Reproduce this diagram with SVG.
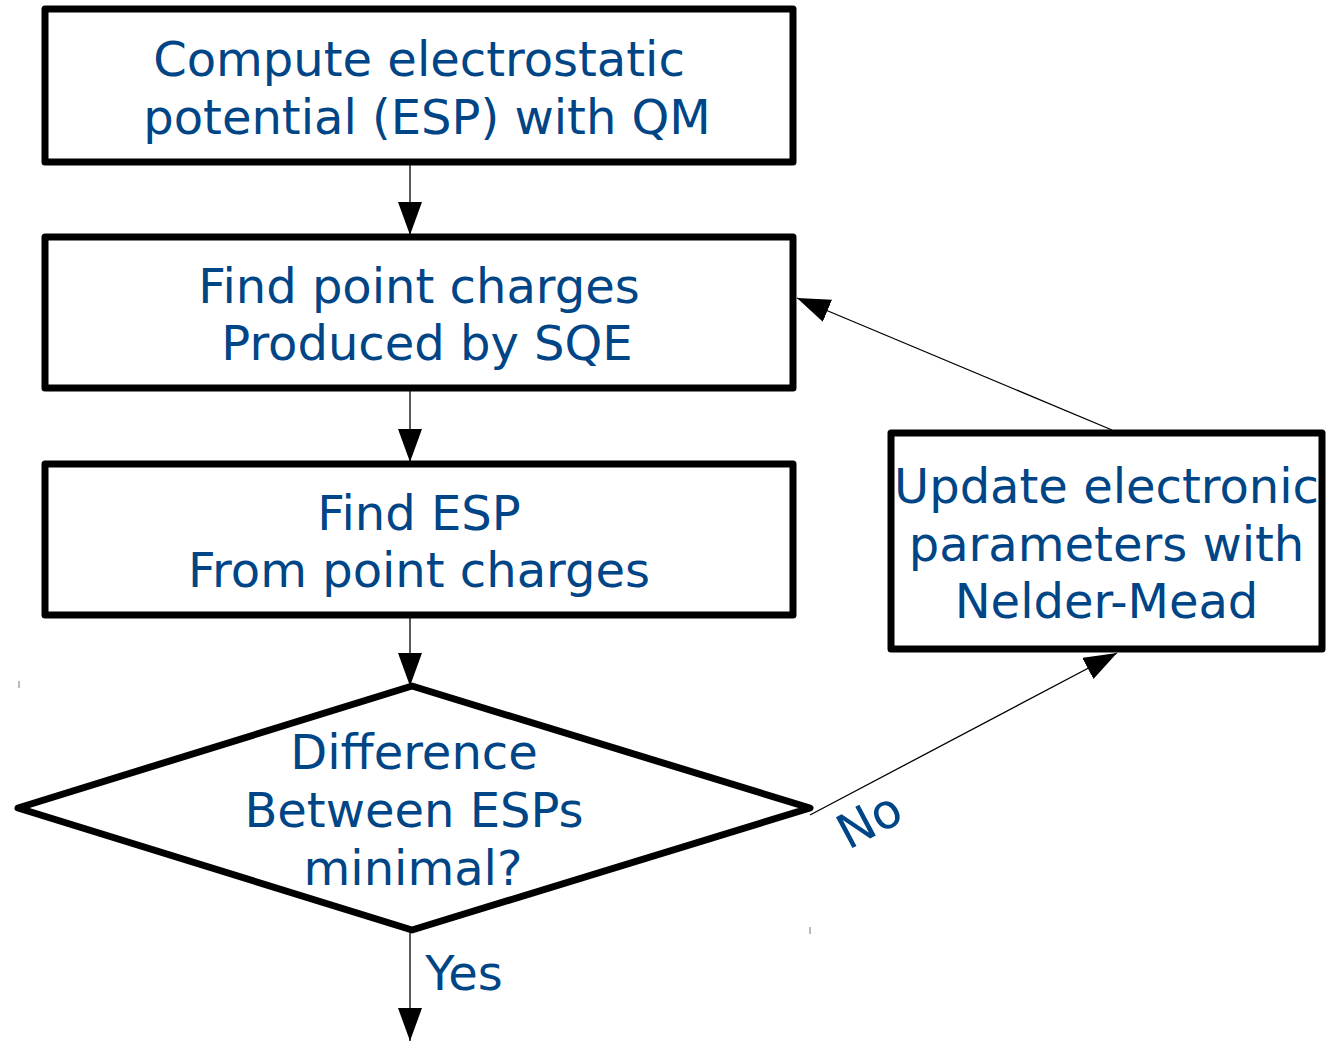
<svg xmlns="http://www.w3.org/2000/svg" width="1332" height="1041" viewBox="0 0 1332 1041">
<style>
.box{fill:#fff;stroke:#000;stroke-width:7;stroke-linejoin:round}
.t{font-family:"DejaVu Sans",sans-serif;font-size:48px;fill:#004586;text-anchor:middle}
.c{stroke:#000;stroke-width:1.3;fill:none}
</style>
<defs>
<marker id="ah" markerUnits="userSpaceOnUse" markerWidth="40" markerHeight="30" refX="33" refY="12" orient="auto">
<path d="M0,0 L33,12 L0,24 Z" fill="#000"/>
</marker>
</defs>
<rect width="1332" height="1041" fill="#fff"/>
<g id="connectors">
<line class="c" x1="410" y1="163" x2="410" y2="235" marker-end="url(#ah)"/>
<line class="c" x1="410" y1="390" x2="410" y2="462" marker-end="url(#ah)"/>
<line class="c" x1="410" y1="617" x2="410" y2="686" marker-end="url(#ah)"/>
<line class="c" x1="410" y1="930" x2="410" y2="1041" marker-end="url(#ah)"/>
<line class="c" x1="810" y1="815" x2="1117" y2="653" marker-end="url(#ah)"/>
<line class="c" x1="1112" y1="430" x2="797" y2="298" marker-end="url(#ah)"/>
<text class="t" x="464" y="990">Yes</text>
<text class="t" x="0" y="0" transform="translate(877,835) rotate(-28)">No</text>
<line x1="19" y1="681" x2="19" y2="688" stroke="#777" stroke-width="1"/>
<line x1="810" y1="927" x2="810" y2="934" stroke="#777" stroke-width="1"/>
</g>
<g id="n1">
<rect class="box" x="45" y="9" width="748" height="153"/>
<text class="t" x="419" y="76">Compute electrostatic</text>
<text class="t" x="427" y="133.6">potential (ESP) with QM</text>
</g>
<g id="n2">
<rect class="box" x="45" y="237" width="748" height="151"/>
<text class="t" x="419" y="302.7">Find point charges</text>
<text class="t" x="427" y="360.3">Produced by SQE</text>
</g>
<g id="n3">
<rect class="box" x="45" y="464" width="748" height="151"/>
<text class="t" x="419" y="529.7">Find ESP</text>
<text class="t" x="419" y="587.3">From point charges</text>
</g>
<g id="n4">
<rect class="box" x="891" y="433" width="431" height="216"/>
<text class="t" x="1106.5" y="503">Update electronic</text>
<text class="t" x="1106.5" y="560.6">parameters with</text>
<text class="t" x="1106.5" y="618.2">Nelder-Mead</text>
</g>
<g id="n5">
<polygon class="box" points="18,808 412,686 810,808 412,930"/>
<text class="t" x="414" y="769.4">Difference</text>
<text class="t" x="414" y="827">Between ESPs</text>
<text class="t" x="413" y="884.6">minimal?</text>
</g>
</svg>
